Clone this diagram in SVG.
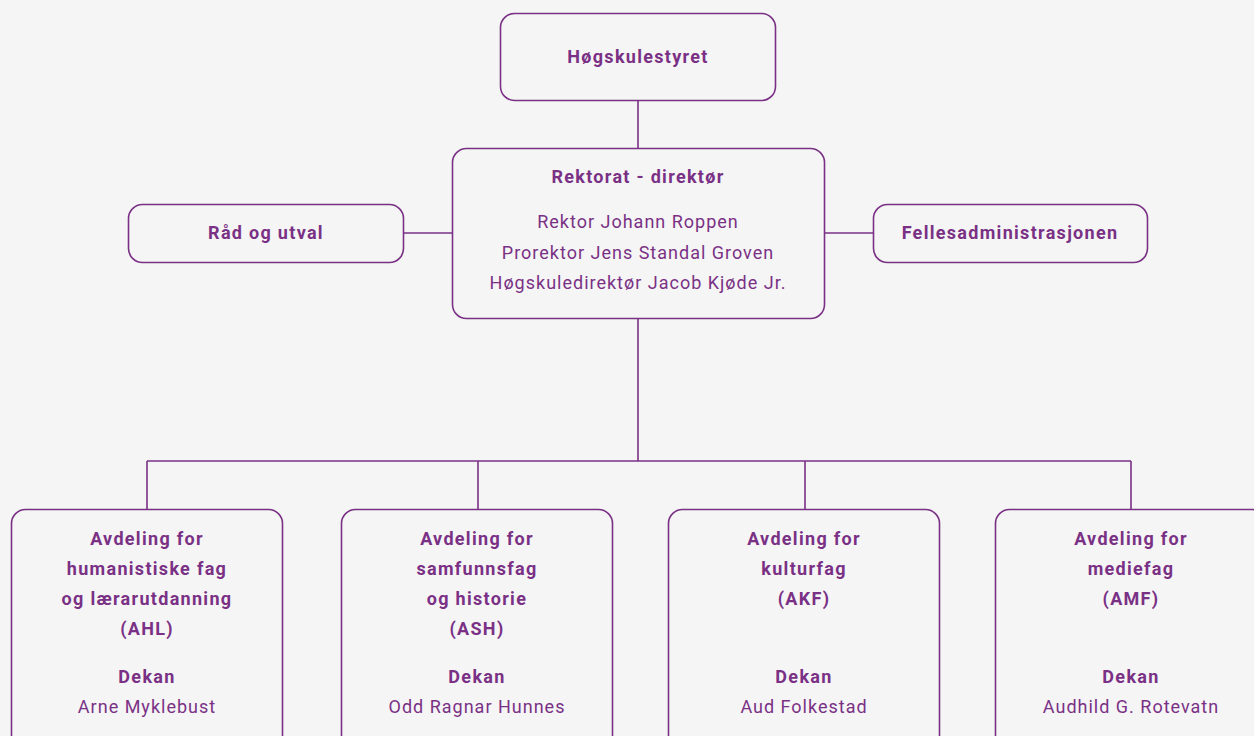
<svg xmlns="http://www.w3.org/2000/svg" width="1254" height="736" viewBox="0 0 1254 736">
<style>
.bg{fill:#f5f5f5}
.box{fill:#f5f5f5;stroke:#7a3185;stroke-width:1.6}
.ln{stroke:#7a3185;stroke-width:1.6;fill:none}
text{font-family:Roboto,"Liberation Sans",sans-serif;font-size:18px;fill:#7a3185;text-anchor:middle;letter-spacing:1px}
.b{font-weight:bold;letter-spacing:1.3px}
</style>
<rect class="bg" x="0" y="0" width="1254" height="736"/>
<g id="connectors">
<path class="ln" d="M638 100V148M404 233H452M825 233H873M638 318V461M147 461H1131M147 461V509M478 461V509M805 461V509M1131 461V509"/>
</g>
<g id="hogskulestyret">
<rect class="box" x="500.5" y="13.5" width="275" height="87" rx="14"/>
<text class="b" x="638" y="63">Høgskulestyret</text>
</g>
<g id="rektorat">
<rect class="box" x="452.5" y="148.5" width="372" height="170" rx="14"/>
<text class="b" x="638" y="183">Rektorat - direktør</text>
<text x="638" y="228">Rektor Johann Roppen</text>
<text x="638" y="259">Prorektor Jens Standal Groven</text>
<text x="638" y="289">Høgskuledirektør Jacob Kjøde Jr.</text>
</g>
<g id="rad">
<rect class="box" x="128.5" y="204.5" width="275" height="58" rx="14"/>
<text class="b" x="266" y="239">Råd og utval</text>
</g>
<g id="felles">
<rect class="box" x="873.5" y="204.5" width="274" height="58" rx="14"/>
<text class="b" x="1010" y="239">Fellesadministrasjonen</text>
</g>
<g id="ahl">
<rect class="box" x="11.5" y="509.5" width="271" height="240" rx="14"/>
<text class="b" x="147" y="545">Avdeling for</text>
<text class="b" x="147" y="575">humanistiske fag</text>
<text class="b" x="147" y="605">og lærarutdanning</text>
<text class="b" x="147" y="635">(AHL)</text>
<text class="b" x="147" y="683">Dekan</text>
<text x="147" y="713">Arne Myklebust</text>
</g>
<g id="ash">
<rect class="box" x="341.5" y="509.5" width="271" height="240" rx="14"/>
<text class="b" x="477" y="545">Avdeling for</text>
<text class="b" x="477" y="575">samfunnsfag</text>
<text class="b" x="477" y="605">og historie</text>
<text class="b" x="477" y="635">(ASH)</text>
<text class="b" x="477" y="683">Dekan</text>
<text x="477" y="713">Odd Ragnar Hunnes</text>
</g>
<g id="akf">
<rect class="box" x="668.5" y="509.5" width="271" height="240" rx="14"/>
<text class="b" x="804" y="545">Avdeling for</text>
<text class="b" x="804" y="575">kulturfag</text>
<text class="b" x="804" y="605">(AKF)</text>
<text class="b" x="804" y="683">Dekan</text>
<text x="804" y="713">Aud Folkestad</text>
</g>
<g id="amf">
<rect class="box" x="995.5" y="509.5" width="271" height="240" rx="14"/>
<text class="b" x="1131" y="545">Avdeling for</text>
<text class="b" x="1131" y="575">mediefag</text>
<text class="b" x="1131" y="605">(AMF)</text>
<text class="b" x="1131" y="683">Dekan</text>
<text x="1131" y="713">Audhild G. Rotevatn</text>
</g>
</svg>
